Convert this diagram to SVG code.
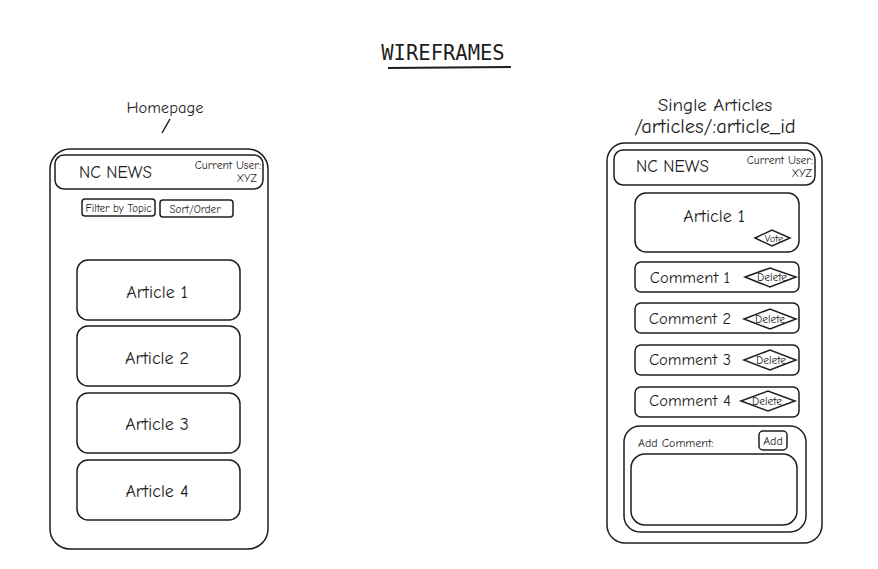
<svg xmlns="http://www.w3.org/2000/svg" width="878" height="569" viewBox="0 0 878 569">
  <style>
    .box { fill: none; stroke: #1e1e1e; stroke-width: 1.5; }
    .hand { font-family: "Comic Neue", "Liberation Sans", sans-serif; fill: #1e1e1e; }
    .mono { font-family: "DejaVu Sans Mono", "Liberation Mono", monospace; fill: #1e1e1e; }
  </style>
  <rect width="878" height="569" fill="#ffffff"/>

  <!-- page title -->
  <g id="title">
    <text class="mono" x="443" y="60" font-size="20.5" text-anchor="middle">WIREFRAMES</text>
    <line x1="388" y1="68" x2="511" y2="67" stroke="#1e1e1e" stroke-width="2"/>
  </g>

  <!-- homepage screen -->
  <g id="homepage-label">
    <text class="hand" x="165" y="113" font-size="16.5" text-anchor="middle">Homepage</text>
  </g>
  <g id="connectors">
    <line x1="170" y1="119" x2="162" y2="133" class="box"/>
  </g>
  <g id="homepage">
    <rect class="box" x="50" y="149" width="218" height="400" rx="20"/>
    <g id="home-header">
      <rect class="box" x="55" y="155" width="208" height="34" rx="9"/>
      <text class="hand" x="79" y="178" font-size="17">NC NEWS</text>
      <text class="hand" x="261" y="169" font-size="11.5" text-anchor="end">Current User:</text>
      <text class="hand" x="257" y="182" font-size="11" text-anchor="end">XYZ</text>
    </g>
    <g id="filter-btn">
      <rect class="box" x="82" y="199" width="73" height="17" rx="3"/>
      <text class="hand" x="118.5" y="211.5" font-size="11" text-anchor="middle">Filter by Topic</text>
    </g>
    <g id="sort-btn">
      <rect class="box" x="160" y="200" width="73" height="17" rx="3"/>
      <text class="hand" x="195" y="212.5" font-size="11" text-anchor="middle">Sort/Order</text>
    </g>
    <g id="home-article-1">
      <rect class="box" x="77" y="260" width="163" height="60" rx="11"/>
      <text class="hand" x="157" y="298" font-size="18" text-anchor="middle">Article 1</text>
    </g>
    <g id="home-article-2">
      <rect class="box" x="77" y="326" width="163" height="60" rx="11"/>
      <text class="hand" x="157" y="364" font-size="18" text-anchor="middle">Article 2</text>
    </g>
    <g id="home-article-3">
      <rect class="box" x="77" y="393" width="163" height="60" rx="11"/>
      <text class="hand" x="157" y="430" font-size="18" text-anchor="middle">Article 3</text>
    </g>
    <g id="home-article-4">
      <rect class="box" x="77" y="460" width="163" height="60" rx="11"/>
      <text class="hand" x="157" y="497" font-size="18" text-anchor="middle">Article 4</text>
    </g>
  </g>

  <!-- single article screen -->
  <g id="single-label">
    <text class="hand" x="715" y="111" font-size="19" text-anchor="middle">Single Articles</text>
    <text class="hand" x="715" y="133" font-size="20.5" text-anchor="middle">/articles/:article_id</text>
  </g>
  <g id="single-article">
    <rect class="box" x="607" y="143" width="215" height="400" rx="18"/>
    <g id="single-header">
      <rect class="box" x="614" y="150" width="201" height="35" rx="9"/>
      <text class="hand" x="636" y="172" font-size="17">NC NEWS</text>
      <text class="hand" x="813" y="164" font-size="11.5" text-anchor="end">Current User:</text>
      <text class="hand" x="812" y="177" font-size="11" text-anchor="end">XYZ</text>
    </g>
    <g id="article-main">
      <rect class="box" x="635" y="193" width="164" height="59" rx="11"/>
      <text class="hand" x="714" y="222" font-size="18" text-anchor="middle">Article 1</text>
      <polygon class="box" points="755,238 772,230 790,238 772,246"/>
      <text class="hand" x="774" y="242" font-size="10.5" text-anchor="middle">Vote</text>
    </g>
    <g id="comment-1">
      <rect class="box" x="635" y="262" width="164" height="30" rx="6"/>
      <text class="hand" x="690" y="283" font-size="16.5" text-anchor="middle">Comment 1</text>
      <polygon class="box" points="745,277 770,268 796,277 770,287"/>
      <text class="hand" x="772" y="281" font-size="11.5" text-anchor="middle">Delete</text>
    </g>
    <g id="comment-2">
      <rect class="box" x="635" y="303" width="164" height="30" rx="6"/>
      <text class="hand" x="690" y="324" font-size="16.5" text-anchor="middle">Comment 2</text>
      <polygon class="box" points="744,319 770,309 796,319 770,329"/>
      <text class="hand" x="770" y="323" font-size="11.5" text-anchor="middle">Delete</text>
    </g>
    <g id="comment-3">
      <rect class="box" x="635" y="345" width="164" height="30" rx="6"/>
      <text class="hand" x="690" y="365" font-size="16.5" text-anchor="middle">Comment 3</text>
      <polygon class="box" points="744,360 770,350 796,360 770,370"/>
      <text class="hand" x="771" y="364" font-size="11.5" text-anchor="middle">Delete</text>
    </g>
    <g id="comment-4">
      <rect class="box" x="635" y="387" width="164" height="30" rx="6"/>
      <text class="hand" x="690" y="406" font-size="16.5" text-anchor="middle">Comment 4</text>
      <polygon class="box" points="741,401 768,391 795,401 768,411"/>
      <text class="hand" x="767" y="405" font-size="11.5" text-anchor="middle">Delete</text>
    </g>
    <g id="add-comment">
      <rect class="box" x="624" y="426" width="182" height="106" rx="16"/>
      <text class="hand" x="638" y="447" font-size="12">Add Comment:</text>
      <rect class="box" x="759" y="431" width="28" height="19" rx="4"/>
      <text class="hand" x="773" y="445" font-size="12" text-anchor="middle">Add</text>
      <rect class="box" x="631" y="454" width="166" height="71" rx="14"/>
    </g>
  </g>
</svg>
